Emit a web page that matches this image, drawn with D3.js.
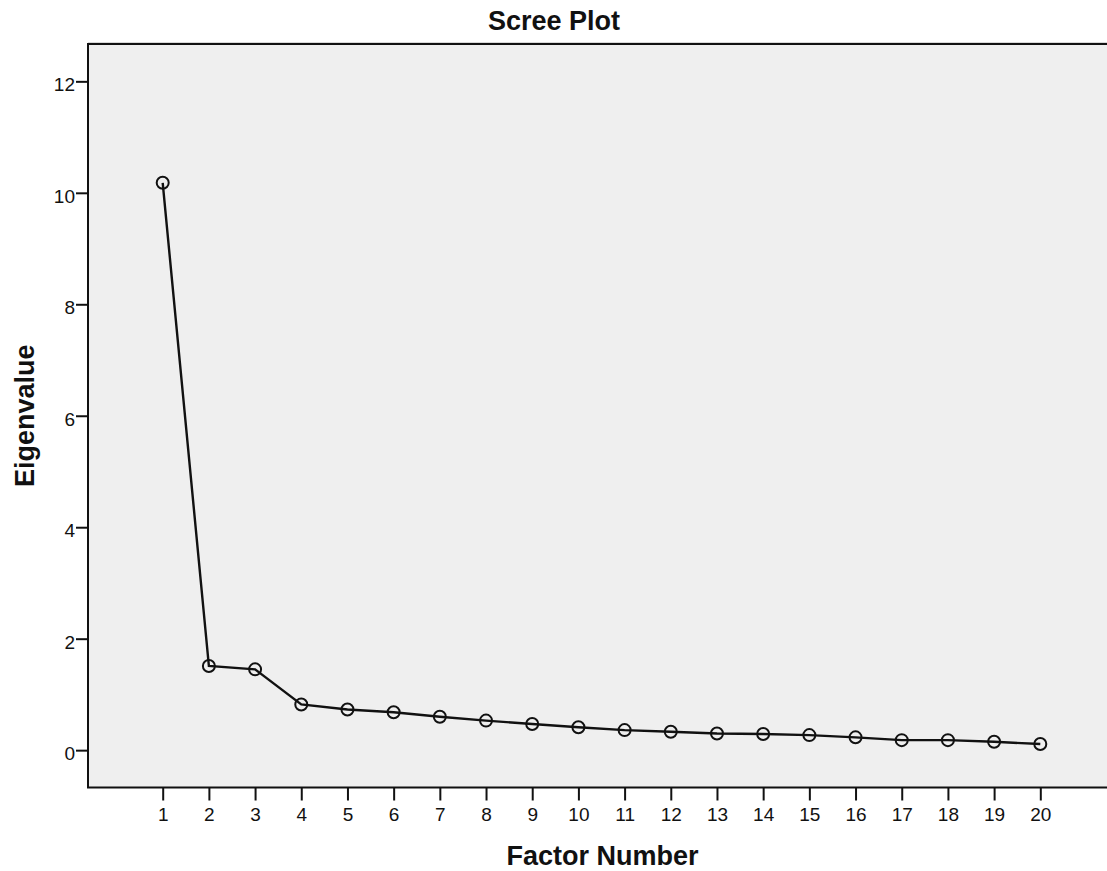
<!DOCTYPE html>
<html>
<head>
<meta charset="utf-8">
<script src="https://cdn.jsdelivr.net/npm/d3@7"></script>
<style>
  html, body { margin: 0; padding: 0; background: #fff; }
  svg { display: block; }
  text { font-family: "Liberation Sans", Arial, sans-serif; }
</style>
</head>
<body>
<svg id="chart" width="1107" height="871"></svg>
<script>
const factors = [1,2,3,4,5,6,7,8,9,10,11,12,13,14,15,16,17,18,19,20];
const eigenvalues = [10.18,1.51,1.45,0.82,0.73,0.68,0.60,0.53,0.47,0.41,0.36,0.33,0.30,0.29,0.27,0.23,0.18,0.18,0.15,0.11];
const yTicks = [0,2,4,6,8,10,12];
const xTicks = factors;
const titleText = "Scree Plot";
const xLabel = "Factor Number";
const yLabel = "Eigenvalue";

const svg = d3.select("#chart");
const plot = {left: 88, top: 44, right: 1112, bottom: 787.5};

const x = d3.scaleLinear().domain([1, 20]).range([162.7, 1040.3]);
const y = d3.scaleLinear().domain([-0.67, 12.67]).range([plot.bottom, plot.top]);

// background
svg.append("rect")
  .attr("x", plot.left).attr("y", plot.top)
  .attr("width", plot.right - plot.left).attr("height", plot.bottom - plot.top)
  .attr("fill", "#efefef");

// faint shadow above top border
svg.append("line")
  .attr("x1", plot.left).attr("x2", plot.right)
  .attr("y1", plot.top - 1.5).attr("y2", plot.top - 1.5)
  .attr("stroke", "#d8d8d8").attr("stroke-width", 1);

// frame lines
const frame = svg.append("g").attr("stroke", "#111").attr("stroke-width", 2).attr("fill", "none");
frame.append("path")
  .attr("d", `M${plot.right},${plot.top}H${plot.left}V${plot.bottom}H${plot.right}`);

// y axis
const yAxis = d3.axisLeft(y).tickValues(yTicks).tickSize(12).tickSizeOuter(0).tickPadding(1).tickFormat(d3.format("d"));
const gy = svg.append("g").attr("transform", `translate(${plot.left},0)`).call(yAxis);
gy.select(".domain").remove();
gy.selectAll(".tick line").attr("stroke", "#111").attr("stroke-width", 2);
gy.selectAll(".tick text").attr("font-size", 19).attr("fill", "#111").attr("dy", "0.5em");

// x axis
const xAxis = d3.axisBottom(x).tickValues(xTicks).tickSize(13).tickSizeOuter(0).tickPadding(7).tickFormat(d3.format("d"));
const gx = svg.append("g").attr("transform", `translate(0,${plot.bottom})`).call(xAxis);
gx.select(".domain").remove();
gx.selectAll(".tick line").attr("stroke", "#111").attr("stroke-width", 2);
gx.selectAll(".tick text").attr("font-size", 19).attr("fill", "#111");

// line
const line = d3.line().x((d, i) => x(factors[i])).y(d => y(d));
svg.append("path")
  .datum(eigenvalues)
  .attr("d", line)
  .attr("fill", "none")
  .attr("stroke", "#111")
  .attr("stroke-width", 2.4);

// markers
svg.selectAll("circle.pt")
  .data(eigenvalues)
  .join("circle")
  .attr("class", "pt")
  .attr("cx", (d, i) => x(factors[i]))
  .attr("cy", d => y(d))
  .attr("r", 6)
  .attr("fill", "none")
  .attr("stroke", "#111")
  .attr("stroke-width", 2);

// title
svg.append("text")
  .attr("x", 554).attr("y", 30)
  .attr("text-anchor", "middle")
  .attr("font-size", 27).attr("font-weight", "bold").attr("fill", "#111")
  .text(titleText);

// x label
svg.append("text")
  .attr("x", 602.5).attr("y", 865)
  .attr("text-anchor", "middle")
  .attr("font-size", 27).attr("font-weight", "bold").attr("fill", "#111")
  .text(xLabel);

// y label
svg.append("text")
  .attr("transform", `translate(34,${(plot.top + plot.bottom) / 2}) rotate(-90)`)
  .attr("text-anchor", "middle")
  .attr("font-size", 27).attr("font-weight", "bold").attr("fill", "#111")
  .text(yLabel);
</script>
</body>
</html>
